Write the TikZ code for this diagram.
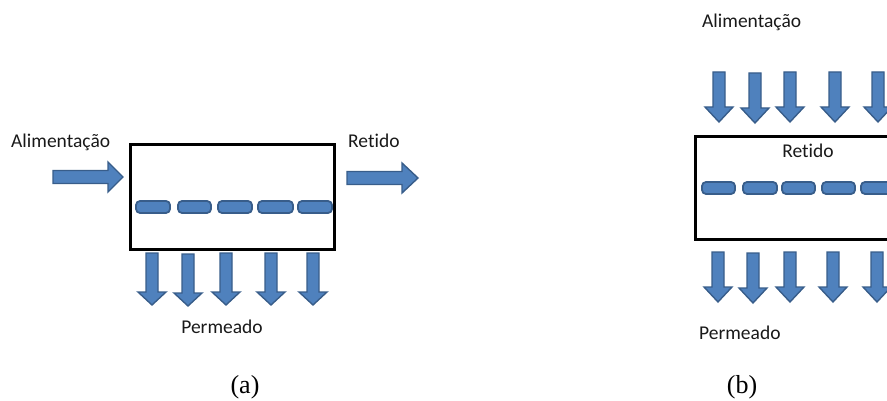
\documentclass[tikz,border=0pt]{standalone}
\usepackage{fontspec}
\setmainfont[Ligatures={NoCommon}]{Carlito}
\newfontfamily\capfont{Liberation Serif}
\definecolor{arrfill}{HTML}{4F81BD}
\definecolor{arrline}{HTML}{385D8A}
\newcommand\harrowx[4]{% xtail, xhead, xtip, y
  \draw[barrow] (#1,#4-6.5) -- (#2,#4-6.5) -- (#2,#4-15) -- (#3,#4) -- (#2,#4+15) -- (#2,#4+6.5) -- (#1,#4+6.5) -- cycle;}
\newcommand\varrowx[4]{% x, ytop, yhead, ytip
  \draw[barrow] (#1-6,#2) -- (#1+6,#2) -- (#1+6,#3) -- (#1+14,#3) -- (#1,#4) -- (#1-14,#3) -- (#1-6,#3) -- cycle;}
\newcommand\dashx[3]{% x1, x2, y
  \draw[mdash] (#1,#3-6) rectangle (#2,#3+6);}
\tikzset{
  barrow/.style={fill=arrfill, draw=arrline, line width=1.4pt, line join=miter},
  mdash/.style={fill=arrfill, draw=arrline, line width=1.8pt, rounded corners=4pt},
  vessel/.style={draw=black, line width=3pt, inner sep=0pt},
  lbl/.style={inner sep=0pt, font=\fontsize{19.5}{21}\selectfont, text=black!90},
  captext/.style={inner sep=0pt, font=\capfont\fontsize{26}{28}\selectfont}
}
\begin{document}
\begin{tikzpicture}[x=1pt, y=-1pt]
\useasboundingbox (0,0) rectangle (887,401);
\clip (0,0) rectangle (887,401);
% ---------- (a) ----------
\node[vessel, minimum width=204pt, minimum height=104pt] (boxa) at (232,197) {};
\dashx{136}{170}{207}
\dashx{178}{211}{207}
\dashx{218}{252}{207}
\dashx{258}{293}{207}
\dashx{298}{332}{207}
\harrowx{53}{108}{123}{177}
\harrowx{347}{402}{418}{178}
\varrowx{152}{253}{292}{305}
\varrowx{188}{254}{293}{306}
\varrowx{226}{253}{292}{305}
\varrowx{271}{253}{292}{305}
\varrowx{313}{253}{292}{305}
\node[lbl, anchor=base west] (alima) at (11,148) {Alimentação};
\node[lbl, anchor=base west] (reta) at (348,148) {Retido};
\node[lbl, anchor=base] (perma) at (222,333) {Permeado};
\node[captext] (capa) at (245,387) {(a)};
% ---------- (b) ----------
\node[vessel, minimum width=220pt, minimum height=102pt] (boxb) at (805,188) {};
\dashx{702}{735}{188}
\dashx{743}{777}{188}
\dashx{782}{815}{188}
\dashx{822}{855}{188}
\dashx{861}{895}{188}
\varrowx{719}{72}{107}{122}
\varrowx{755}{73}{108}{123}
\varrowx{790}{72}{107}{122}
\varrowx{835}{72}{107}{122}
\varrowx{878}{72}{107}{122}
\varrowx{718}{252}{287}{302}
\varrowx{753}{253}{288}{303}
\varrowx{790}{252}{287}{302}
\varrowx{833}{252}{287}{302}
\varrowx{877}{252}{287}{302}
\node[lbl, anchor=base west] (alimb) at (702,28) {Alimentação};
\node[lbl, anchor=base] (retb) at (808,158) {Retido};
\node[lbl, anchor=base west] (permb) at (699,339) {Permeado};
\node[captext] (capb) at (742,387) {(b)};
\end{tikzpicture}
\end{document}
